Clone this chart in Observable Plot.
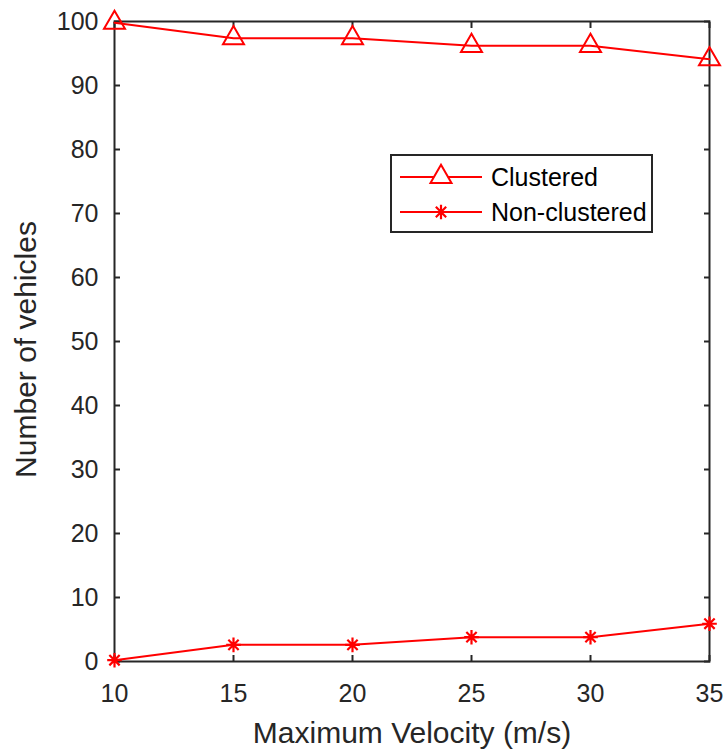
<!DOCTYPE html>
<html><head><meta charset="utf-8">
<script src="https://cdn.jsdelivr.net/npm/d3@7"></script>
<script src="https://cdn.jsdelivr.net/npm/@observablehq/plot@0.6"></script>
<style>
body{margin:0;background:#fff;font-family:"Liberation Sans",Arial,sans-serif;}
#wrap{position:relative;width:726px;height:749px;}
#legend{position:absolute;left:390px;top:154px;width:259px;height:75px;border:2px solid #262626;background:#fff;box-sizing:content-box;}
</style></head>
<body><div id="wrap"><div id="chart"></div><div id="legend"></div></div>
<script>
const velocity = [10, 15, 20, 25, 30, 35];
const clustered = [99.8, 97.4, 97.4, 96.2, 96.2, 94.1];
const nonClustered = [0.2, 2.6, 2.6, 3.8, 3.8, 5.9];
const seriesNames = ["Clustered", "Non-clustered"];
const xTicks = [10, 15, 20, 25, 30, 35];
const yTicks = [0, 10, 20, 30, 40, 50, 60, 70, 80, 90, 100];
const xLabel = "Maximum Velocity (m/s)";
const yLabel = "Number of vehicles";

const rows = velocity.flatMap((v, i) => [
  {v, n: clustered[i], s: seriesNames[0]},
  {v, n: nonClustered[i], s: seriesNames[1]}
]);
const red = "#ff0000";
const axisColor = "#262626";
const blank = () => "";

// MATLAB-style 8-armed asterisk (plus + cross)
const star8 = {
  draw(context, size) {
    const r = Math.sqrt(size / Math.PI);
    const d = r * Math.SQRT1_2;
    context.moveTo(-r, 0); context.lineTo(r, 0);
    context.moveTo(0, -r); context.lineTo(0, r);
    context.moveTo(-d, -d); context.lineTo(d, d);
    context.moveTo(-d, d); context.lineTo(d, -d);
  }
};

const chart = Plot.plot({
  width: 726, height: 749,
  marginLeft: 114, marginRight: 17, marginTop: 21, marginBottom: 88,
  style: {fontFamily: "'Liberation Sans', Arial, sans-serif", fontSize: "25px", color: axisColor, background: "#fff"},
  x: {domain: [10, 35]},
  y: {domain: [0, 100]},
  marks: [
    Plot.frame({stroke: axisColor, strokeWidth: 2}),
    Plot.axisX({anchor: "bottom", ticks: xTicks, tickSize: -6, strokeWidth: 2, tickFormat: blank, label: null}),
    Plot.axisX({anchor: "top", ticks: xTicks, tickSize: -6, strokeWidth: 2, tickFormat: blank, label: null}),
    Plot.axisY({anchor: "left", ticks: yTicks, tickSize: -6, strokeWidth: 2, tickFormat: blank, label: null}),
    Plot.axisY({anchor: "right", ticks: yTicks, tickSize: -6, strokeWidth: 2, tickFormat: blank, label: null}),
    Plot.axisX({anchor: "bottom", ticks: xTicks, tickSize: 0, tickPadding: 23, fontSize: 25, fill: axisColor, label: null}),
    Plot.axisY({anchor: "left", ticks: yTicks, tickSize: 0, tickPadding: 16, fontSize: 25, fill: axisColor, label: null}),
    Plot.text([xLabel], {frameAnchor: "bottom", lineAnchor: "middle", dy: 72, fontSize: 30, fill: axisColor, text: d => d}),
    Plot.text([yLabel], {frameAnchor: "left", textAnchor: "middle", lineAnchor: "middle", dx: -88, dy: 8, rotate: -90, fontSize: 30, fill: axisColor, text: d => d}),
    Plot.line(rows, {x: "v", y: "n", z: "s", stroke: red, strokeWidth: 2}),
    Plot.dot(rows.filter(d => d.s === seriesNames[0]), {x: "v", y: "n", symbol: "triangle", r: 7.8, stroke: red, strokeWidth: 2, fill: "none"}),
    Plot.dot(rows.filter(d => d.s === seriesNames[1]), {x: "v", y: "n", symbol: star8, r: 7.3, stroke: red, strokeWidth: 2.2, fill: "none"})
  ]
});
document.getElementById("chart").appendChild(chart);

// legend
const lg = d3.select("#legend").append("svg").attr("width", 259).attr("height", 75)
  .style("font-family", "'Liberation Sans', Arial, sans-serif");
seriesNames.forEach((name, i) => {
  const y = 21 + i * 35;
  lg.append("line").attr("x1", 8).attr("x2", 90).attr("y1", y).attr("y2", y)
    .attr("stroke", red).attr("stroke-width", 2);
  lg.append("path").attr("transform", `translate(49,${y})`)
    .attr("d", d3.symbol(i === 0 ? d3.symbolTriangle : star8, i === 0 ? Math.PI * 7.8 * 7.8 : Math.PI * 7.3 * 7.3)())
    .attr("fill", i === 0 ? "#fff" : "none").attr("stroke", red).attr("stroke-width", i === 0 ? 2 : 2.2);
  lg.append("text").attr("x", 99).attr("y", y).attr("dy", "0.36em")
    .attr("font-size", 25).attr("fill", "#000").text(name);
});
</script></body></html>
